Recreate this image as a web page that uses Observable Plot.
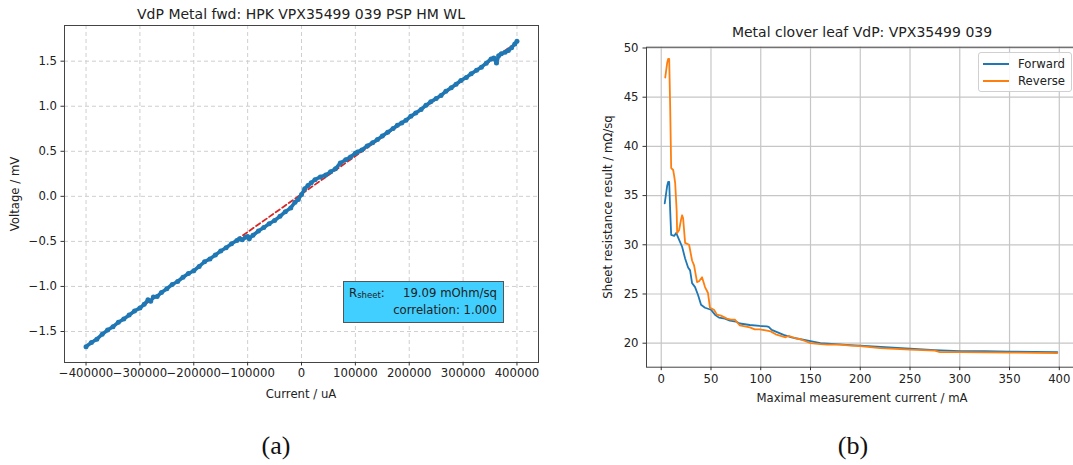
<!DOCTYPE html>
<html>
<head>
<meta charset="utf-8">
<script src="https://cdn.jsdelivr.net/npm/d3@7"></script>
<script src="https://cdn.jsdelivr.net/npm/@observablehq/plot@0.6"></script>
<style>
  html, body { margin:0; padding:0; background:#fff; }
  body { width:1073px; height:465px; overflow:hidden; position:relative; font-family:"DejaVu Sans", sans-serif; color:#222; }
  .abs { position:absolute; white-space:nowrap; }
  .title { font-size:14px; }
  .lab { font-size:11.7px; }
  .cap { font-family:"Liberation Serif", "DejaVu Serif", serif; font-size:26px; color:#111; }
  #pa, #pb { position:absolute; top:0; height:410px; }
  #pa { left:0; width:545px; }
  #pb { left:560px; width:530px; }
  #pa svg, #pb svg { max-width:none !important; }
</style>
</head>
<body>
<div id="pa"></div>
<div id="pb"></div>

<script>
// ---------- Panel (a): VdP Metal fwd ----------
const currentUA = [
  -400000,-390000,-380000,-370000,-360000,-350000,-340000,-330000,-320000,-310000,
  -300000,-292000,-285000,-280000,-275000,-268000,-260000,-250000,-240000,-230000,
  -220000,-210000,-200000,-190000,-180000,-170000,-160000,-150000,-140000,-130000,
  -120000,-115000,-110000,-104000,-100000,-97000,-90000,-80000,-70000,-60000,
  -50000,-40000,-30000,-20000,-12000,-6000,0,6000,12000,18000,
  25000,35000,45000,54000,63000,72000,82000,91000,100000,104000,
  112000,122000,132000,141000,150000,160000,170000,178000,186000,194000,
  203000,212000,222000,231000,240000,250000,259000,268000,278000,287000,
  296000,306000,315000,325000,334000,343000,352000,357000,362000,366000,
  371000,378000,384000,390000,396000,400000
];
const voltageMV = [
  -1.668,-1.622,-1.585,-1.530,-1.484,-1.447,-1.398,-1.362,-1.318,-1.272,
  -1.240,-1.198,-1.148,-1.165,-1.118,-1.112,-1.066,-1.025,-0.978,-0.945,
  -0.898,-0.857,-0.826,-0.778,-0.726,-0.694,-0.652,-0.606,-0.570,-0.527,
  -0.490,-0.470,-0.482,-0.455,-0.445,-0.470,-0.432,-0.385,-0.345,-0.305,
  -0.268,-0.222,-0.170,-0.128,-0.065,-0.035,0.020,0.085,0.120,0.150,
  0.185,0.215,0.238,0.272,0.305,0.370,0.405,0.438,0.478,0.493,
  0.515,0.560,0.595,0.630,0.670,0.712,0.752,0.789,0.815,0.844,
  0.890,0.925,0.965,1.010,1.050,1.085,1.120,1.165,1.205,1.245,
  1.285,1.320,1.360,1.400,1.434,1.478,1.525,1.535,1.480,1.560,
  1.582,1.600,1.618,1.650,1.690,1.720
];
const fitCurrentUA = [-400000, 400000];
const fitVoltageMV = [-1.660, 1.710];
const xTicksA = [-400000,-300000,-200000,-100000,0,100000,200000,300000,400000];
const yTicksA = [-1.5,-1.0,-0.5,0.0,0.5,1.0,1.5];
const titleA = "VdP Metal fwd: HPK VPX35499 039 PSP HM WL";
const xLabelA = "Current / uA";
const yLabelA = "Voltage / mV";
const rSheetText = "19.09 mOhm/sq";
const corrText = "correlation: 1.000";

// ---------- Panel (b): Metal clover leaf VdP ----------
const fwdCurrentMA = [3.5,6,7,8,9,10,13,15,18,21,24,27,29,31,34,37,40,44,50,54,58,64,69,75,79,89,99,106,108,111,117,123,131,140,150,160,175,190,200,225,250,275,300,325,350,375,398];
const fwdRsheet   = [34.2,36.0,36.4,36.4,33.5,31.0,30.9,31.2,30.5,29.8,28.6,27.7,27.4,26.1,25.7,24.9,23.9,23.6,23.4,22.9,22.6,22.5,22.3,22.2,22.0,21.85,21.75,21.7,21.65,21.35,21.1,20.85,20.6,20.4,20.2,20.0,19.9,19.8,19.75,19.6,19.45,19.3,19.2,19.18,19.15,19.12,19.1];
const revCurrentMA = [4,6,7,8,9,10,12,13,14,15.5,16,18,20,21,22,24,28,31,33,36,38,41,44,47,49,53,56,60,66,70,74,79,89,94,99,105,110,115,120,125,128,135,140,150,160,167,180,190,200,220,250,275,280,300,350,398];
const revRsheet   = [47.0,48.5,48.9,48.9,44.0,37.8,37.6,37.0,36.3,33.5,31.2,31.5,32.6,33.0,32.7,30.2,30.0,28.4,27.9,26.2,26.3,26.7,25.7,25.1,23.6,23.4,22.9,22.8,22.5,22.4,22.4,21.8,21.6,21.4,21.4,21.3,21.2,20.9,20.75,20.6,20.75,20.5,20.4,20.0,19.9,19.85,19.85,19.75,19.7,19.5,19.35,19.25,19.1,19.1,19.05,19.0];
const xTicksB = [0,50,100,150,200,250,300,350,400];
const yTicksB = [20,25,30,35,40,45,50];
const seriesNames = ["Forward","Reverse"];
const seriesColors = ["#1f77b4","#ff7f0e"];
const titleB = "Metal clover leaf VdP: VPX35499 039";
const xLabelB = "Maximal measurement current / mA";
const yLabelB = "Sheet resistance result / m\u03A9/sq";
const captions = ["(a)","(b)"];

// ---------- build tables ----------
const meas = currentUA.map((c,i) => ({i:c, v:voltageMV[i]}));
const fit = fitCurrentUA.map((c,i) => ({i:c, v:fitVoltageMV[i]}));
const fwd = fwdCurrentMA.map((c,i) => ({x:c, y:fwdRsheet[i]}));
const rev = revCurrentMA.map((c,i) => ({x:c, y:revRsheet[i]}));

const baseStyle = {fontFamily:"DejaVu Sans", fontSize:"11.7px", color:"#222", background:"transparent", overflow:"visible", maxWidth:"none"};

const plotA = Plot.plot({
  width:545, height:410,
  marginLeft:64, marginRight:7, marginTop:25, marginBottom:48,
  x:{domain:[-440000,440000]},
  y:{domain:[-1.844,1.896]},
  style: baseStyle,
  marks:[
    Plot.gridX({ticks:xTicksA, stroke:"#cfcfcf", strokeOpacity:1, strokeWidth:1, strokeDasharray:"4,3"}),
    Plot.gridY({ticks:yTicksA, stroke:"#cfcfcf", strokeOpacity:1, strokeWidth:1, strokeDasharray:"4,3"}),
    Plot.line(fit, {x:"i", y:"v", stroke:"#d62728", strokeWidth:1.8, strokeDasharray:"5,3"}),
    Plot.line(meas, {x:"i", y:"v", stroke:"#1f77b4", strokeWidth:3.6}),
    Plot.dot(meas, {x:"i", y:"v", r:2.5, fill:"#1f77b4", stroke:null}),
    Plot.frame({stroke:"#444", strokeWidth:1}),
    Plot.axisX({ticks:xTicksA, tickFormat:d3.format("d"), tickSize:3.5, tickPadding:3, label:null, stroke:"#333"}),
    Plot.axisY({ticks:yTicksA, tickFormat:d3.format(".1f"), tickSize:3.5, tickPadding:4, label:null, stroke:"#333"})
  ]
});
document.getElementById("pa").appendChild(plotA);

const plotB = Plot.plot({
  width:530, height:410,
  marginLeft:86, marginRight:11.6, marginTop:46.7, marginBottom:43.3,
  x:{domain:[-14.8,419.7]},
  y:{domain:[17.56,50.08]},
  style: baseStyle,
  marks:[
    Plot.gridX({ticks:xTicksB, stroke:"#c6c6c6", strokeOpacity:1, strokeWidth:1.2}),
    Plot.gridY({ticks:yTicksB, stroke:"#c6c6c6", strokeOpacity:1, strokeWidth:1.2}),
    Plot.line(fwd, {x:"x", y:"y", stroke:seriesColors[0], strokeWidth:1.8}),
    Plot.line(rev, {x:"x", y:"y", stroke:seriesColors[1], strokeWidth:1.8}),
    Plot.frame({stroke:"#444", strokeWidth:1}),
    Plot.axisX({ticks:xTicksB, tickSize:3.5, tickPadding:3.5, label:null, stroke:"#333"}),
    Plot.axisY({ticks:yTicksB, tickSize:3.5, tickPadding:4.5, label:null, stroke:"#333"})
  ]
});
document.getElementById("pb").appendChild(plotB);

// ---------- text overlays ----------
function addText(txt, x, y, cls, rot) {
  const d = document.createElement("div");
  d.className = "abs " + cls;
  d.style.left = x + "px"; d.style.top = y + "px";
  d.style.transform = "translate(-50%,-50%)" + (rot ? " rotate(" + rot + "deg)" : "");
  d.textContent = txt;
  document.body.appendChild(d);
  return d;
}
addText(titleA, 301, 14, "title");
addText(xLabelA, 301, 394, "lab");
addText(yLabelA, 15, 194, "lab", -90);
addText(titleB, 862, 32, "title");
addText(xLabelB, 862, 398, "lab");
addText(yLabelB, 608, 207, "lab", -90);
addText(captions[0], 276, 446, "cap");
addText(captions[1], 853, 446, "cap");

// annotation box (panel a)
const box = document.createElement("div");
box.className = "abs";
Object.assign(box.style, {left:"343px", top:"281px", width:"161px", height:"42px", boxSizing:"border-box",
  background:"#40cfff", border:"1px solid #555", fontSize:"11.7px", lineHeight:"15px", padding:"4px 6px 0 5px"});
box.innerHTML = '<div style="display:flex;justify-content:space-between"><span>R<sub style="font-size:8.5px;vertical-align:-1px">sheet</sub>:</span><span>' + rSheetText + '</span></div>'
  + '<div style="text-align:right">' + corrText + '</div>';
document.body.appendChild(box);

// legend (panel b)
const leg = document.createElement("div");
leg.className = "abs";
Object.assign(leg.style, {left:"978px", top:"52px", width:"94px", height:"40px", boxSizing:"border-box",
  background:"rgba(255,255,255,0.85)", border:"1px solid #d0d0d0", borderRadius:"3px", fontSize:"11.7px", padding:"2px 0 0 4px"});
leg.innerHTML = seriesNames.map((n,i) =>
  '<div style="display:flex;align-items:center;height:17.5px"><span style="display:inline-block;width:26px;height:2px;background:' + seriesColors[i] + ';margin-right:9px"></span>' + n + '</div>').join("");
document.body.appendChild(leg);
</script>
</body>
</html>
